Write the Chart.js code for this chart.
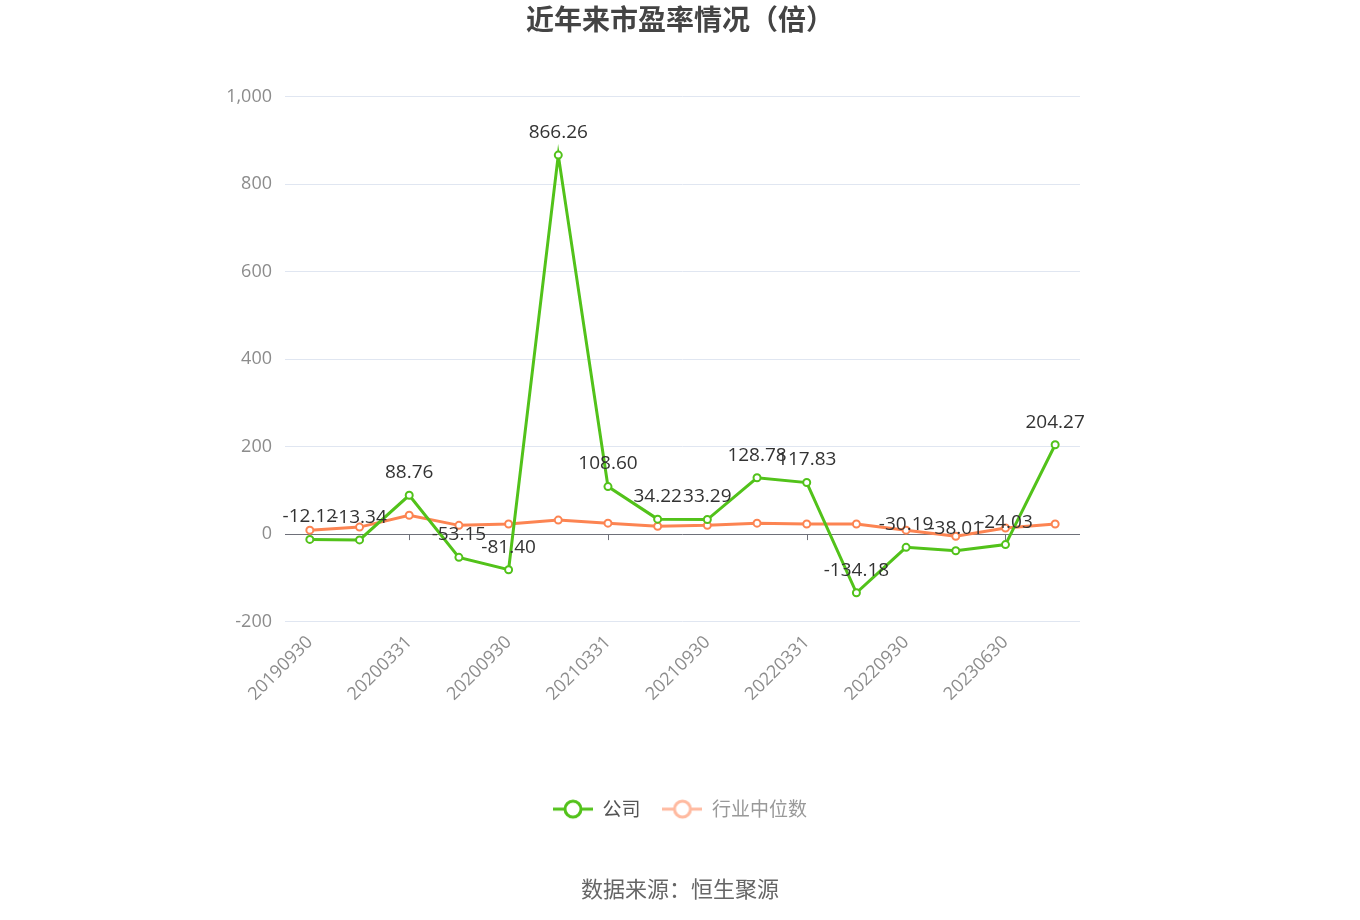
<!DOCTYPE html>
<html>
<head>
<meta charset="utf-8">
<script src="https://cdn.jsdelivr.net/npm/chart.js@4.4.0/dist/chart.umd.min.js"></script>
<style>
  html, body { margin: 0; padding: 0; background: #fff; }
  #wrap { width: 1360px; height: 920px; }
</style>
</head>
<body>
<div id="wrap"><canvas id="chart"></canvas></div>
<script>
const dates = ['20190930', '20191231', '20200331', '20200630', '20200930', '20201231',
  '20210331', '20210630', '20210930', '20211231', '20220331', '20220630',
  '20220930', '20230331', '20230630', '20230930'];
const companyPE = [-12.12, -13.34, 88.76, -53.15, -81.40, 866.26, 108.60, 34.22,
  33.29, 128.78, 117.83, -134.18, -30.19, -38.01, -24.03, 204.27];
const industryPE = [9, 16, 43, 20, 23, 32, 25, 18, 20, 25, 23, 23, 9, -5, 14, 23];
const yTicks = [-200, 0, 200, 400, 600, 800, 1000];

const COLORS = {
  green: 'rgb(82, 194, 26)',
  orange: 'rgb(252, 132, 82)',
  orangeLight: 'rgb(255, 186, 160)',
  grid: '#e0e6f1',
  axis: '#6e7079',
  text: '#333333',
  muted: '#8c8c8c'
};

const legendIcon = (color) => {
  const c = document.createElement('canvas');
  c.width = 40; c.height = 22;
  const g = c.getContext('2d');
  g.strokeStyle = color; g.lineWidth = 3;
  g.beginPath(); g.moveTo(0, 11); g.lineTo(40, 11); g.stroke();
  g.fillStyle = '#fff';
  g.beginPath(); g.arc(20, 11, 8, 0, Math.PI * 2); g.fill(); g.stroke();
  return c;
};

// value labels above company points + tick marks on the zero line
const extras = {
  id: 'extras',
  afterDatasetsDraw(chart) {
    const { ctx, scales: { x, y } } = chart;
    const zero = y.getPixelForValue(0);
    ctx.save();
    ctx.strokeStyle = COLORS.axis;
    ctx.lineWidth = 1;
    [2, 6, 10, 14].forEach(i => {
      const px = Math.round(x.getPixelForValue(i)) + 0.5;
      ctx.beginPath(); ctx.moveTo(px, zero); ctx.lineTo(px, zero + 6); ctx.stroke();
    });
    const meta = chart.getDatasetMeta(0);
    ctx.font = '19px "Open Sans", "Noto Sans", sans-serif';
    ctx.fillStyle = COLORS.text;
    ctx.textAlign = 'center';
    ctx.textBaseline = 'bottom';
    meta.data.forEach((pt, i) => {
      ctx.fillText(companyPE[i].toFixed(2), pt.x, pt.y - 13);
    });
    ctx.restore();
  }
};

const ctx = document.getElementById('chart');
const myChart = new Chart(ctx, {
  type: 'line',
  data: {
    labels: dates,
    datasets: [
      { label: '公司',
        data: companyPE,
        borderColor: COLORS.green,
        backgroundColor: '#fff',
        borderWidth: 3,
        pointRadius: 3.5,
        pointBorderWidth: 2,
        tension: 0
      },
      { label: '行业中位数',
        data: industryPE,
        borderColor: COLORS.orange,
        backgroundColor: '#fff',
        borderWidth: 3,
        pointRadius: 3.5,
        pointBorderWidth: 2,
        tension: 0
      }
    ]
  },
  options: {
    responsive: true,
    maintainAspectRatio: false,
    animation: false,
    layout: { padding: 0 },
    scales: {
      x: {
        offset: true,
        afterFit: (s) => { s.height = 156; },
        grid: { display: false },
        border: { display: false },
        ticks: {
          autoSkip: false,
          maxRotation: 45,
          minRotation: 45,
          padding: 2,
          color: COLORS.muted,
          font: { size: 18, family: '"Open Sans", "Noto Sans", sans-serif' },
          callback: (v, i) => (i % 2 === 0 ? dates[i] : '')
        }
      },
      y: {
        min: yTicks[0],
        max: yTicks[yTicks.length - 1],
        afterFit: (s) => { s.width = 285; },
        afterBuildTicks: (s) => { s.ticks = yTicks.map(v => ({ value: v })); },
        border: { display: false },
        grid: {
          drawTicks: false,
          color: (c) => (c.tick && c.tick.value === 0 ? COLORS.axis : COLORS.grid),
          lineWidth: 1
        },
        ticks: {
          padding: 13,
          color: COLORS.muted,
          font: { size: 18, family: '"Open Sans", "Noto Sans", sans-serif' }
        }
      },
      // empty right-hand axis: keeps the plot where it is while title and legend stay centred on the page
      yRight: {
        position: 'right',
        afterFit: (s) => { s.width = 280; },
        grid: { display: false },
        border: { display: false },
        ticks: { display: false }
      }
    },
    plugins: {
      title: {
        display: true,
        text: '近年来市盈率情况（倍）',
        color: '#444',
        font: { size: 28, weight: 'bold', family: '"Noto Sans CJK SC", sans-serif' },
        padding: { top: 3, bottom: 60 }
      },
      subtitle: {
        display: true,
        position: 'bottom',
        text: '数据来源：恒生聚源',
        color: '#666',
        font: { size: 22, family: '"Noto Sans CJK SC", sans-serif' },
        padding: { top: 47, bottom: 18 }
      },
      legend: {
        position: 'bottom',
        labels: {
          usePointStyle: true,
          pointStyleWidth: 40,
          padding: 22,
          font: { size: 19, family: '"Noto Sans CJK SC", sans-serif' },
          generateLabels: () => [
            { text: '公司', pointStyle: legendIcon(COLORS.green), fontColor: '#555',
              strokeStyle: COLORS.green, fillStyle: '#fff', datasetIndex: 0 },
            { text: '行业中位数', pointStyle: legendIcon(COLORS.orangeLight), fontColor: '#999',
              strokeStyle: COLORS.orangeLight, fillStyle: '#fff', datasetIndex: 1 }
          ]
        }
      },
      tooltip: { enabled: false }
    }
  },
  plugins: [extras]
});
</script>
</body>
</html>
